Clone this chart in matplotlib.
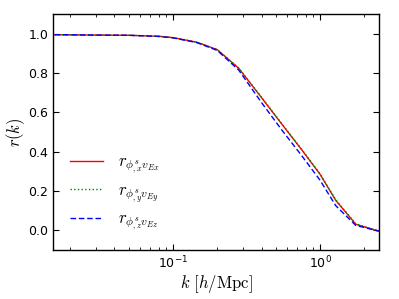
import matplotlib
matplotlib.use("Agg")
import matplotlib.pyplot as plt
import numpy as np

k = [0.0157, 0.03, 0.05, 0.08, 0.1, 0.145, 0.2, 0.28, 0.4, 0.55, 0.75, 1.0, 1.28, 1.75, 2.5]
r_x = [0.995, 0.993, 0.992, 0.987, 0.98, 0.957, 0.919, 0.824, 0.675, 0.54, 0.41, 0.285, 0.152, 0.031, -0.004]
r_y = [0.995, 0.993, 0.992, 0.987, 0.98, 0.957, 0.919, 0.826, 0.677, 0.542, 0.412, 0.287, 0.155, 0.033, -0.004]
r_z = [0.995, 0.993, 0.992, 0.986, 0.979, 0.955, 0.915, 0.815, 0.65, 0.51, 0.38, 0.255, 0.125, 0.025, -0.004]

labels = [r"$r_{\phi^s_{,x}v_{Ex}}$", r"$r_{\phi^s_{,y}v_{Ey}}$", r"$r_{\phi^s_{,z}v_{Ez}}$"]

plt.rcParams["mathtext.fontset"] = "cm"
plt.rcParams["font.family"] = ["DejaVu Sans"]

fig = plt.figure(figsize=(3.99, 2.99), dpi=100)
ax = fig.add_axes([0.133, 0.164, 0.817, 0.789])

ax.plot(k, r_x, color="r", ls="-", lw=1.0, label=labels[0])
ax.plot(k, r_y, color="g", ls=":", lw=1.0, label=labels[1])
ax.plot(k, r_z, color="b", ls=(0, (4, 2)), lw=1.0, label=labels[2])

ax.set_xscale("log")
ax.set_xlim(0.0153, 2.52)
ax.set_ylim(-0.1, 1.1)
ax.set_yticks([0.0, 0.2, 0.4, 0.6, 0.8, 1.0])
ax.tick_params(which="both", direction="in", top=True, right=True, labelsize=9)
ax.tick_params(which="major", length=4)
ax.tick_params(which="minor", length=2)
ax.set_xlabel(r"$k\ [h/\mathrm{Mpc}]$", fontsize=12, labelpad=1)
ax.set_ylabel(r"$r(k)$", fontsize=12)
ax.yaxis.set_label_coords(-0.08, 0.5)
for s in ax.spines.values():
    s.set_linewidth(1.0)

ax.legend(loc="lower left", frameon=False, fontsize=12, handlelength=2.0,
          labelspacing=0.3, borderaxespad=0.6, handletextpad=0.9)

fig.savefig("out.png", dpi=100, facecolor="white")
